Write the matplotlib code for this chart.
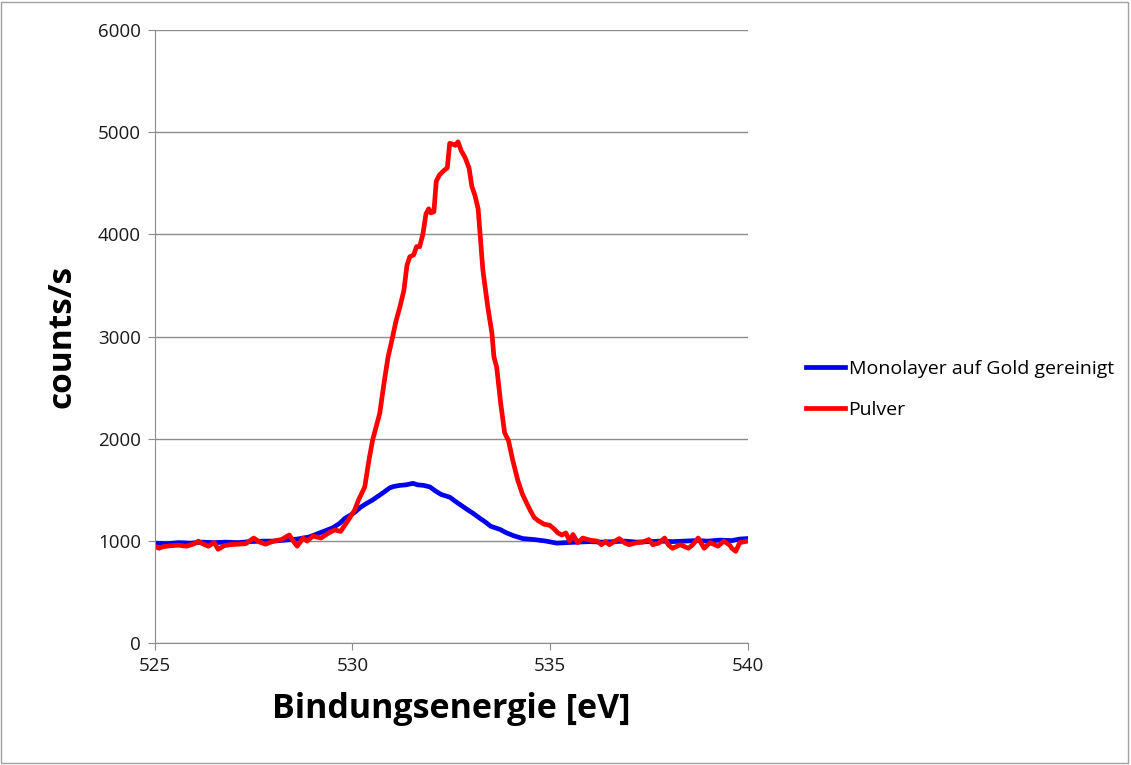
import matplotlib
matplotlib.use("Agg")
import matplotlib.pyplot as plt
from matplotlib.patches import Rectangle

plt.rcParams['font.family'] = ['Open Sans', 'DejaVu Sans']

# Monolayer auf Gold gereinigt (blau)
mono_x = [525.0, 525.3, 525.6, 525.9, 526.2, 526.5, 526.8, 527.1, 527.4, 527.7,
          528.0, 528.3, 528.6, 528.9, 529.1, 529.3, 529.5, 529.68, 529.8, 529.93,
          530.05, 530.2, 530.36, 530.5, 530.65, 530.8, 530.94, 531.05, 531.2, 531.35,
          531.53, 531.65, 531.8, 531.96, 532.1, 532.25, 532.46, 532.6, 532.75, 532.9,
          533.04, 533.2, 533.35, 533.5, 533.73, 533.9, 534.1, 534.31, 534.6, 534.9,
          535.17, 535.4, 535.7, 536.0, 536.3, 536.6, 536.9, 537.2, 537.5, 537.8,
          538.1, 538.4, 538.7, 539.0, 539.3, 539.6, 539.8, 540.0]
mono_y = [980, 975, 985, 980, 990, 985, 990, 985, 995, 1000,
          1000, 1010, 1020, 1040, 1070, 1100, 1130, 1175, 1220, 1250,
          1280, 1330, 1370, 1400, 1440, 1480, 1520, 1535, 1545, 1550,
          1565, 1550, 1545, 1530, 1490, 1455, 1430, 1390, 1350, 1310,
          1275, 1230, 1190, 1145, 1115, 1080, 1050, 1025, 1015, 1000,
          980, 985, 990, 995, 990, 995, 1000, 990, 995, 1000,
          995, 1000, 1005, 1000, 1010, 1005, 1020, 1025]

# Pulver (rot)
pulver_x = [525.0, 525.1, 525.2, 525.4, 525.6, 525.8, 526.0, 526.1, 526.2, 526.35,
            526.5, 526.6, 526.75, 526.9, 527.1, 527.3, 527.5, 527.65, 527.8, 528.0,
            528.2, 528.4, 528.5, 528.6, 528.75, 528.85, 529.0, 529.2, 529.4, 529.55,
            529.7, 529.9, 530.05, 530.15, 530.31, 530.42, 530.51, 530.6, 530.69, 530.8,
            530.9, 531.0, 531.1, 531.2, 531.3, 531.38, 531.45, 531.55, 531.62, 531.7,
            531.78, 531.86, 531.93, 531.98, 532.06, 532.12, 532.2, 532.3, 532.4, 532.46,
            532.55, 532.6, 532.67, 532.75, 532.85, 532.95, 533.02, 533.1, 533.18, 533.3,
            533.42, 533.53, 533.58, 533.65, 533.75, 533.85, 533.95, 534.05, 534.18, 534.3,
            534.41, 534.5, 534.6, 534.7, 534.85, 534.99, 535.1, 535.2, 535.3, 535.4,
            535.5, 535.58, 535.7, 535.83, 536.0, 536.2, 536.3, 536.4, 536.5, 536.6,
            536.75, 536.9, 537.0, 537.2, 537.35, 537.5, 537.6, 537.75, 537.9, 538.0,
            538.1, 538.3, 538.5, 538.6, 538.75, 538.9, 539.05, 539.25, 539.4, 539.55,
            539.6, 539.7, 539.8, 540.0]
pulver_y = [950, 930, 945, 955, 960, 950, 975, 1000, 975, 950,
            985, 920, 955, 965, 970, 975, 1030, 990, 970, 1000,
            1015, 1060, 1000, 950, 1030, 1000, 1050, 1030, 1080, 1110,
            1095, 1210, 1300, 1400, 1530, 1800, 1990, 2120, 2250, 2550,
            2800, 2970, 3150, 3290, 3450, 3700, 3780, 3800, 3880, 3880,
            4000, 4200, 4250, 4210, 4220, 4520, 4580, 4620, 4650, 4890,
            4880, 4870, 4905, 4820, 4750, 4650, 4470, 4380, 4250, 3650,
            3300, 3030, 2800, 2700, 2350, 2060, 1980, 1800, 1600, 1460,
            1370, 1300, 1230, 1200, 1165, 1155, 1120, 1080, 1060, 1080,
            1000, 1065, 985, 1030, 1010, 1000, 965, 995, 965, 990,
            1025, 980, 965, 985, 990, 1015, 965, 980, 1030, 960,
            930, 965, 930, 960, 1030, 930, 985, 950, 1000, 960,
            930, 900, 985, 1000]

fig = plt.figure(figsize=(11.31, 7.65), dpi=100)
ax = fig.add_axes([0.137, 0.159, 0.524, 0.802])

ax.plot(mono_x, mono_y, color="#0000ee", lw=3.4, label="Monolayer auf Gold gereinigt")
ax.plot(pulver_x, pulver_y, color="#ff0000", lw=3.4, label="Pulver")

ax.set_xlim(525, 540)
ax.set_ylim(0, 6000)
ax.set_xticks([525, 530, 535, 540])
ax.set_yticks(range(0, 6001, 1000))
ax.yaxis.grid(True, color="#8c8c8c", lw=1)
ax.set_axisbelow(True)
for s in ["top", "right"]:
    ax.spines[s].set_visible(False)
for s in ["left", "bottom"]:
    ax.spines[s].set_color("#8c8c8c")
ax.tick_params(direction="out", length=5, color="#8c8c8c", labelsize=13.5, pad=5,
               labelcolor="#1a1a1a")

ax.set_xlabel("Bindungsenergie [eV]", fontsize=24.5, fontweight="bold", labelpad=12)
ax.set_ylabel("counts/s", fontsize=24, fontweight="bold", labelpad=14)

fig.legend(loc="upper left", bbox_to_anchor=(0.697, 0.552), frameon=False,
           fontsize=14, handlelength=2.0, handletextpad=0.2, labelspacing=1.15)

fig.patches.append(Rectangle((0.001, 0.002), 0.996, 0.996, transform=fig.transFigure,
                             fill=False, edgecolor="#a0a0a0", lw=1))

fig.savefig("out.png", dpi=100)
